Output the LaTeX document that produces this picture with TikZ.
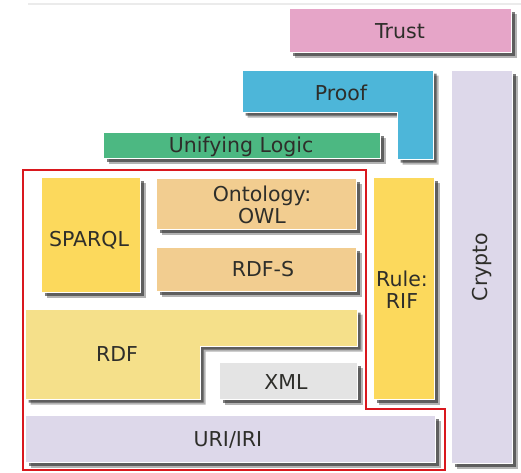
\documentclass[tikz,border=0pt]{standalone}
\usepackage{fontspec}
\setmainfont{DejaVu Sans}
\usetikzlibrary{shadows}
\definecolor{ctrust}{HTML}{E6A5C8}
\definecolor{cproof}{HTML}{4DB6D9}
\definecolor{clogic}{HTML}{4CB882}
\definecolor{cyel}{HTML}{FCD95C}
\definecolor{cowl}{HTML}{F2CD90}
\definecolor{crdf}{HTML}{F5E08A}
\definecolor{cxml}{HTML}{E4E4E4}
\definecolor{clav}{HTML}{DDD8EA}
\definecolor{cred}{HTML}{D9181E}
\definecolor{ctext}{HTML}{2E2E2A}
\tikzset{
  shade3/.style={
    drop shadow={shadow xshift=5.5pt, shadow yshift=-5.5pt, opacity=0.35, fill=black!85},
    drop shadow={shadow xshift=3.5pt, shadow yshift=-3.5pt, opacity=0.6, fill=black!85}},
  layer/.style={shade3, draw=white, line width=0.8pt, inner sep=0pt, anchor=north west},
  lbl/.style={text=ctext, font=\fontsize{20.5}{24}\selectfont, align=center, inner sep=0pt},
  frame/.style={draw=cred, line width=1.3pt}
}
\begin{document}
\begin{tikzpicture}[x=1pt,y=-1pt]
\useasboundingbox (0,0) rectangle (521,472);
% faint top line
\draw[black!8, line width=2pt] (28,4) -- (521,4);
% Trust
\node[layer, fill=ctrust, minimum width=222pt, minimum height=44pt] (trustbox) at (289,8) {};
\node[lbl] (trust) at (400,31) {Trust};
% Crypto
\node[layer, fill=clav, minimum width=61pt, minimum height=393pt] (cryptobox) at (451,70) {};
\node[lbl, rotate=90] (crypto) at (482,267) {Crypto};
% Proof (L shape)
\path[shade3, fill=cproof, draw=white, line width=0.8pt] (242,70) -- (433,70) -- (433,159) -- (397,159) -- (397,112) -- (242,112) -- cycle;
\node[lbl] (proof) at (341,93) {Proof};
% Unifying Logic
\node[layer, fill=clogic, minimum width=277pt, minimum height=26pt] (logicbox) at (103,132) {};
\node[lbl] (logic) at (241,147) {Unifying Logic};
% Red frame
\draw[frame] (23,170) -- (366,170) -- (366,409) -- (445,409) -- (445,470) -- (23,470) -- cycle;
% SPARQL
\node[layer, fill=cyel, minimum width=99pt, minimum height=115pt] (sparqlbox) at (41,177) {};
\node[lbl] (sparql) at (89,240) {SPARQL};
% Ontology
\node[layer, fill=cowl, minimum width=200pt, minimum height=51pt] (owlbox) at (156,178) {};
\node[lbl] (owl) at (262,205) {Ontology:\\[-2pt]OWL};
% RDF-S
\node[layer, fill=cowl, minimum width=200pt, minimum height=44pt] (rdfsbox) at (156,247) {};
\node[lbl] (rdfs) at (263,269) {RDF-S};
% Rule
\node[layer, fill=cyel, minimum width=61pt, minimum height=222pt] (rulebox) at (373,177) {};
\node[lbl] (rule) at (402,290) {Rule:\\[-2pt]RIF};
% RDF (L shape)
\path[shade3, fill=crdf, draw=white, line width=0.8pt] (25,309) -- (357,309) -- (357,346) -- (200,346) -- (200,399) -- (25,399) -- cycle;
\node[lbl] (rdf) at (117,354) {RDF};
% XML
\node[layer, fill=cxml, minimum width=138pt, minimum height=37pt] (xmlbox) at (219,362) {};
\node[lbl] (xml) at (286,382) {XML};
% URI/IRI
\node[layer, fill=clav, minimum width=410pt, minimum height=47pt] (uribox) at (25,415) {};
\node[lbl] (uri) at (228,440) {URI/IRI};
\end{tikzpicture}
\end{document}
